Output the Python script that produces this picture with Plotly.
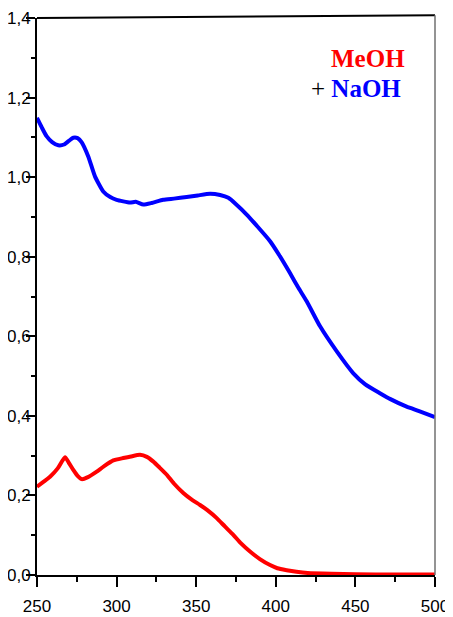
import plotly.graph_objects as go

# Data
wl_naoh = [250, 253, 256, 259.5, 263.4, 267, 270, 272.8, 275.5, 278, 282.2, 286.4, 291.6, 296, 300,
           308.4, 312, 316.8, 322, 329.3, 336, 344, 351, 358.7, 365, 370.2, 375, 381.7, 388,
           396.4, 402, 408.9, 414, 419.4, 427.8, 438.3, 448.7, 456, 465.4, 472, 482.2, 490, 500]
abs_naoh = [1.149, 1.125, 1.103, 1.088, 1.080, 1.082, 1.091, 1.099, 1.098, 1.088, 1.052, 1.002, 0.964, 0.950, 0.943,
            0.936, 0.938, 0.931, 0.935, 0.943, 0.946, 0.950, 0.954, 0.958, 0.955, 0.948, 0.932, 0.906, 0.878,
            0.839, 0.805, 0.759, 0.723, 0.688, 0.625, 0.562, 0.507, 0.480, 0.457, 0.442, 0.423, 0.412, 0.397]

wl_meoh = [250, 254, 258.2, 263, 267.6, 270, 272.8, 275.5, 278.1, 282, 287.5, 292, 297.9, 304.2, 309,
           314.7, 319, 323.1, 327, 331.5, 336, 341.9, 347, 352.4, 357, 362.9, 368, 373.3, 378,
           383.8, 390, 396.4, 401, 406.8, 413, 420, 435, 450, 475, 500]
abs_meoh = [0.222, 0.234, 0.247, 0.268, 0.296, 0.282, 0.264, 0.249, 0.241, 0.246, 0.260, 0.273, 0.288, 0.294, 0.298,
            0.302, 0.297, 0.285, 0.270, 0.252, 0.230, 0.206, 0.190, 0.176, 0.163, 0.143, 0.122, 0.101, 0.080,
            0.059, 0.040, 0.025, 0.017, 0.012, 0.008, 0.005, 0.003, 0.002, 0.001, 0.001]

x_ticks = [250, 300, 350, 400, 450, 500]
x_ticktext = ["250", "300", "350", "400", "450", "500"]
y_ticks = [0.0, 0.2, 0.4, 0.6, 0.8, 1.0, 1.2, 1.4]
y_ticktext = ["0,0", "0,2", "0,4", "0,6", "0,8", "1,0", "1,2", "1,4"]

tick_font = dict(family="Liberation Sans, Arial, sans-serif", size=17, color="black")

fig = go.Figure()
fig.add_trace(go.Scatter(x=wl_naoh, y=abs_naoh, mode="lines",
                         line=dict(color="#0000ff", width=4, shape="spline", smoothing=0.5),
                         showlegend=False))
fig.add_trace(go.Scatter(x=wl_meoh, y=abs_meoh, mode="lines",
                         line=dict(color="#ff0000", width=4, shape="spline", smoothing=0.5),
                         showlegend=False))

# The page body adds an 8px margin, so the figure is sized to fit inside it
fig.update_layout(
    width=445, height=609,
    margin=dict(l=29, r=18, t=10, b=42),
    plot_bgcolor="white", paper_bgcolor="white",
    xaxis=dict(range=[250, 500], tickvals=x_ticks, ticktext=x_ticktext, automargin=False,
               showgrid=False, zeroline=False, showline=True, linecolor="black", linewidth=2,
               ticks="outside", ticklen=10, tickwidth=1.5, tickcolor="black",
               minor=dict(ticks="outside", ticklen=5, dtick=25, tickcolor="black", tickwidth=1.5),
               tickfont=tick_font, ticklabelstandoff=5),
    yaxis=dict(range=[0, 1.4], tickvals=y_ticks, ticktext=y_ticktext, automargin=False,
               showgrid=False, zeroline=False, showline=True, linecolor="black", linewidth=2,
               ticks="outside", ticklen=9, tickwidth=1.5, tickcolor="black",
               minor=dict(ticks="outside", ticklen=4, dtick=0.1, tickcolor="black", tickwidth=1.5),
               tickfont=tick_font, ticklabelstandoff=-8),
    shapes=[
        dict(type="line", xref="paper", yref="paper", x0=0, x1=1, y0=1.0, y1=1.005,
             line=dict(color="black", width=2)),
        dict(type="line", xref="paper", yref="paper", x0=1, x1=1, y0=0, y1=1.005,
             line=dict(color="#707070", width=1.5)),
    ],
    annotations=[
        dict(xref="paper", yref="paper", x=0.93, y=0.928, xanchor="right", yanchor="middle",
             text="<b>MeOH</b>", showarrow=False,
             font=dict(family="Liberation Serif, Times New Roman, serif", size=25, color="#ff0000")),
        dict(xref="paper", yref="paper", x=0.92, y=0.873, xanchor="right", yanchor="middle",
             text="+ <b><span style='color:#0000ff'>NaOH</span></b>", showarrow=False,
             font=dict(family="Liberation Serif, Times New Roman, serif", size=25, color="black")),
    ],
)

fig.write_html("out.html")
